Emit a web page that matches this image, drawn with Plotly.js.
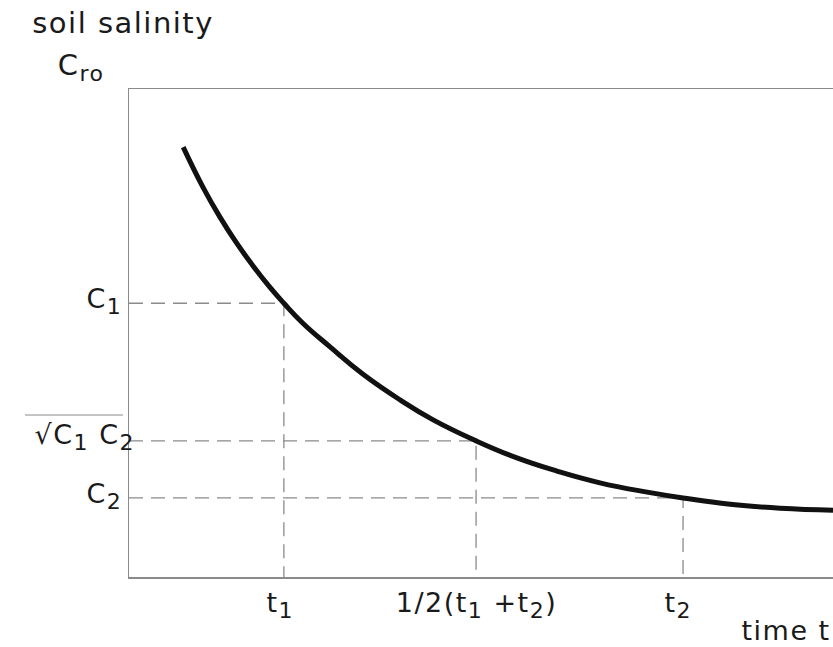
<!DOCTYPE html>
<html>
<head>
<meta charset="utf-8">
<script src="https://cdn.plot.ly/plotly-3.0.1.min.js"></script>
<style>
html,body{margin:0;padding:0;background:#fff;}
#chart{width:833px;height:647px;}
#chart .annotation-text{letter-spacing:1.5px;}
</style>
</head>
<body>
<div id="chart"></div>
<script>
// Curve (time, soil salinity), arbitrary units
const timeVals = [0.77, 1.05, 1.29, 1.53, 1.76, 2.00, 2.20, 2.47, 2.86, 3.32, 3.85, 4.32, 4.93, 5.51, 6.08, 6.69, 7.36, 7.87, 8.54, 9.25, 10.0];
const salinityVals = [8.81, 7.99, 7.38, 6.84, 6.38, 5.94, 5.61, 5.20, 4.71, 4.16, 3.63, 3.22, 2.79, 2.44, 2.17, 1.93, 1.74, 1.62, 1.49, 1.41, 1.37];

// Marked times and salinities
const markTimes = [2.20, 4.93, 7.87];
const markSalinity = [5.61, 2.79, 1.62];
const SUB = s => '<sub><span style="font-size:22px">' + s + '</span></sub>';
const xTickLabels = ["t" + SUB("1"), "1/2(t" + SUB("1") + " +t" + SUB("2") + ")", "t" + SUB("2")];
const yTickLabels = ["C" + SUB("1"), "√C" + SUB("1") + " C" + SUB("2"), "C" + SUB("2")];
const xRange = [0, 10];
const yRange = [0, 10];

const FONT = "DejaVu Sans";
const TXT = "#1a1a1a";
const GRID = "#8a8a8a";

const traces = [];
for (let i = 0; i < markTimes.length; i++) {
  traces.push({
    x: [xRange[0], markTimes[i], markTimes[i]],
    y: [markSalinity[i], markSalinity[i], yRange[0]],
    mode: "lines",
    line: {color: GRID, width: 1.3, dash: "14px,8px"},
    hoverinfo: "skip",
    showlegend: false
  });
}
traces.push({
  x: timeVals, y: salinityVals,
  mode: "lines",
  line: {color: "#111", width: 5, shape: "spline", smoothing: 1.3},
  showlegend: false
});

const xShifts = [-3, 0, -5];
const annotations = [];
markTimes.forEach((t, i) => {
  annotations.push({
    x: t, xref: "x", y: 0, yref: "paper",
    text: xTickLabels[i], showarrow: false,
    xanchor: "center", yanchor: "top", yshift: -8, xshift: xShifts[i],
    font: {family: FONT, size: 27, color: TXT}
  });
});
markSalinity.forEach((c, i) => {
  annotations.push({
    x: 0, xref: "paper", y: c, yref: "y",
    text: yTickLabels[i], showarrow: false,
    xanchor: "right", yanchor: "middle", xshift: i === 1 ? 4 : -6, yshift: i === 1 ? 4 : 2,
    font: {family: FONT, size: 27, color: TXT}
  });
});
annotations.push({
  x: 1, xref: "paper", y: 0, yref: "paper",
  text: "time t", showarrow: false, xanchor: "right", yanchor: "top", yshift: -36, xshift: -5,
  font: {family: FONT, size: 27, color: TXT}
});
annotations.push({
  x: (40 - 129) / 704, xref: "paper", y: 1.135, yref: "paper",
  text: "soil salinity", showarrow: false, xanchor: "left", yanchor: "middle",
  font: {family: FONT, size: 29, color: TXT}
});
annotations.push({
  x: (58 - 129) / 704, xref: "paper", y: (577 - 46) / 488, yref: "paper",
  text: "C" + SUB("ro"), showarrow: false, xanchor: "left", yanchor: "top",
  font: {family: FONT, size: 29, color: TXT}
});

const layout = {
  width: 833, height: 647,
  margin: {l: 129, r: 0, t: 89, b: 70},
  paper_bgcolor: "#fff", plot_bgcolor: "#fff",
  xaxis: {range: xRange, showgrid: false, zeroline: false, showticklabels: false, ticks: "",
          showline: true, mirror: true, linecolor: GRID, linewidth: 1.5},
  yaxis: {range: yRange, showgrid: false, zeroline: false, showticklabels: false, ticks: "",
          showline: true, mirror: false, linecolor: GRID, linewidth: 1.5},
  annotations: annotations,
  shapes: [{type: "line", xref: "paper", yref: "paper",
            x0: (25 - 129) / 704, x1: (123 - 129) / 704,
            y0: (577 - 415) / 488, y1: (577 - 415) / 488,
            line: {color: GRID, width: 1}}]
};

Plotly.newPlot("chart", traces, layout, {displayModeBar: false, staticPlot: true});
</script>
</body>
</html>
